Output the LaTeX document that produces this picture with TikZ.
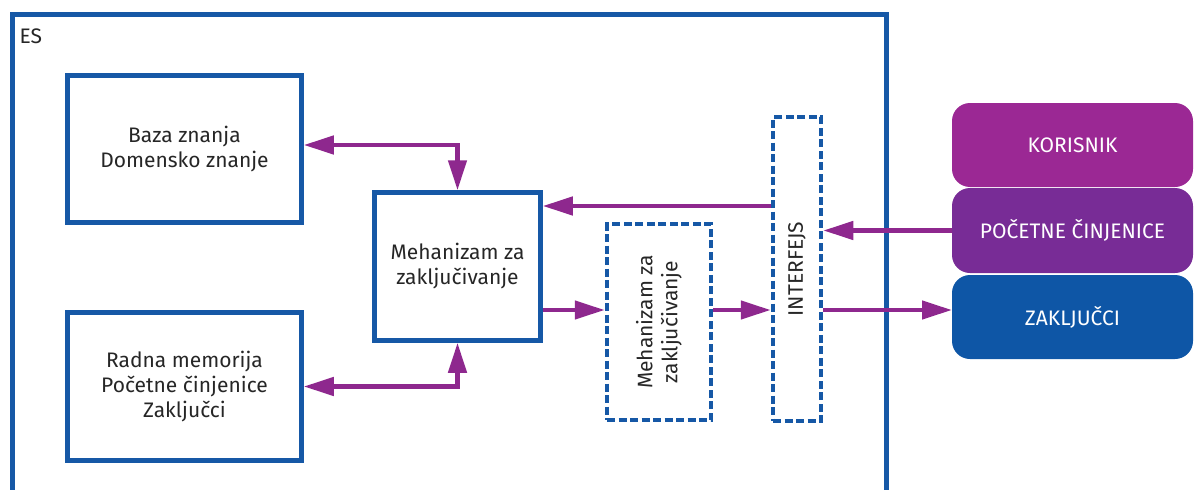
\documentclass[tikz,border=0pt]{standalone}
\usepackage{fontspec}
\setmainfont{Fira Sans}
\usetikzlibrary{positioning, arrows.meta}
\definecolor{esblue}{RGB}{22,88,166}
\definecolor{espurple}{RGB}{142,40,142}
\definecolor{userpink}{RGB}{155,40,148}
\definecolor{factviolet}{RGB}{120,44,150}
\definecolor{resultblue}{RGB}{14,86,166}
\tikzset{
>={Triangle[length=30pt, width=18pt]}, % long narrow arrow heads
every node/.style={font=\fontsize{21}{25}\selectfont, text=black!85}, % text size for every node
block/.style={draw=esblue, line width=4.5pt, outer sep=2.25pt, inner sep=0pt, align=center}, % solid blue boxes
dashblock/.style={block, dash pattern=on 8pt off 3.5pt}, % dashed blue boxes
flow/.style={draw=espurple, line width=4.5pt}, % purple connectors
side/.style={fill=#1, text=white, rounded corners=18pt, minimum width=241pt, minimum height=84pt, outer sep=0pt, inner sep=0pt}, % boxes on the right
}

\begin{document}
\begin{tikzpicture}[x=1pt, y=-1pt]
      \useasboundingbox (0,0) rectangle (1195,490);
      \node[block, anchor=north west, minimum width=874pt, minimum height=500pt] (es) at (10,12) {};
      \node[anchor=west] (estext) at ([xshift=6pt, yshift=-24pt]es.north west) {ES};

      \node[block, minimum width=234pt, minimum height=147pt] (baza) at (184.5,149) {Baza znanja\\Domensko znanje};
      \node[block, minimum width=234pt, minimum height=148pt, below=85.5pt of baza] (radna) {Radna memorija\\Početne činjenice\\Zaključci};
      \node[block, minimum width=166pt, minimum height=148pt] (meh) at (457.5,266.5) {Mehanizam za\\zaključivanje};
      \node[dashblock, minimum width=104pt, minimum height=196pt,
        label={[rotate=90, align=center]center:{Mehanizam za\\zaključivanje}}] (meh2) at (659,322) {};
      \node[dashblock, minimum width=48pt, minimum height=304pt,
        label={[rotate=90]center:INTERFEJS}] (iface) at (797,269) {};

      \node[side=userpink] (korisnik) at (1072.5,145) {KORISNIK};
      \node[side=factviolet, minimum height=85pt, below=1pt of korisnik] (pocetne) {POČETNE ČINJENICE};
      \node[side=resultblue, below=2pt of pocetne] (zakljucci) {ZAKLJUČCI};

      \coordinate (back) at ([yshift=60.5pt]meh.east);
      \coordinate (fwd) at ([yshift=-43.5pt]meh.east);

      \draw[flow, <->] ([yshift=4pt]baza.east) -| (meh.north);
      \draw[flow, <->] (radna.east) -| (meh.south);
      \draw[flow, ->] (back -| iface.west) -- (back);
      \draw[flow, ->] (fwd) -- (fwd -| meh2.west);
      \draw[flow, ->] (fwd -| meh2.east) -- (fwd -| iface.west);
      \draw[flow, ->] (pocetne.west) -- (pocetne.west -| iface.east);
      \draw[flow, ->] (fwd -| iface.east) -- (fwd -| zakljucci.west);
\end{tikzpicture}
\end{document}
